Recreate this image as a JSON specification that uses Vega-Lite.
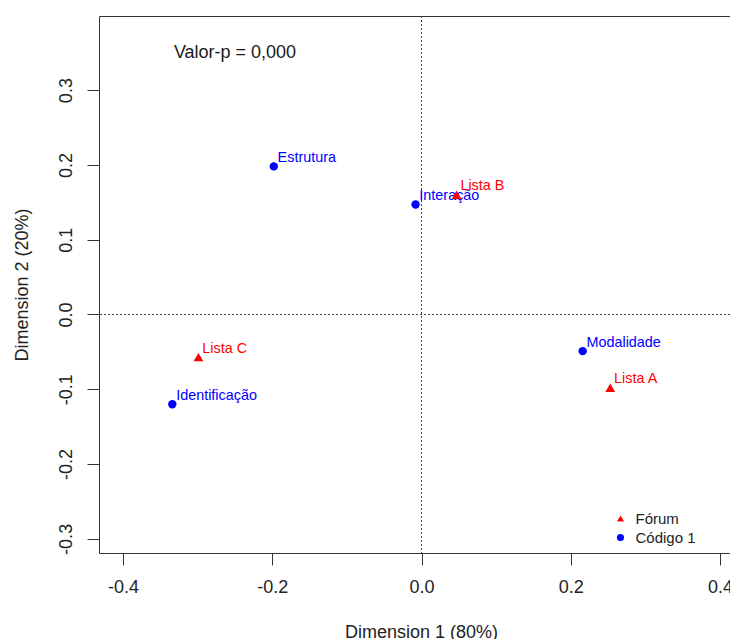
{
  "$schema": "https://vega.github.io/schema/vega-lite/v6.json",
  "width": 631,
  "height": 537,
  "autosize": {"type": "none"},
  "padding": {"left": 99, "top": 16, "right": 0, "bottom": 86},
  "background": "white",
  "config": {
    "view": {"stroke": null},
    "font": "Liberation Sans",
    "axis": {
      "grid": false,
      "domainColor": "#333333",
      "tickColor": "#333333",
      "labelColor": "#222222",
      "titleColor": "#222222",
      "labelFont": "Liberation Sans",
      "titleFont": "Liberation Sans",
      "labelFontSize": 18,
      "titleFontSize": 18,
      "titleFontWeight": "normal",
      "tickSize": 12,
      "labelOverlap": false,
      "labelFlush": false
    },
    "axisY": {
      "labelAngle": 270,
      "labelAlign": "center",
      "labelBaseline": "alphabetic",
      "labelPadding": 16,
      "titleAngle": 270,
      "titleX": -72,
      "titleY": 268.5,
      "titleAlign": "center",
      "titleBaseline": "alphabetic"
    }
  },
  "data": {
    "values": [
      {"rotulo": "Estrutura", "d1": -0.198, "d2": 0.198, "grupo": "Código 1"},
      {"rotulo": "Interação", "d1": -0.008, "d2": 0.147, "grupo": "Código 1"},
      {"rotulo": "Identificação", "d1": -0.334, "d2": -0.12, "grupo": "Código 1"},
      {"rotulo": "Modalidade", "d1": 0.216, "d2": -0.049, "grupo": "Código 1"},
      {"rotulo": "Lista A", "d1": 0.253, "d2": -0.098, "grupo": "Fórum"},
      {"rotulo": "Lista B", "d1": 0.047, "d2": 0.16, "grupo": "Fórum"},
      {"rotulo": "Lista C", "d1": -0.299, "d2": -0.057, "grupo": "Fórum"}
    ]
  },
  "resolve": {"axis": {"x": "independent"}},
  "layer": [
    {
      "data": {"values": [{}]},
      "mark": {"type": "rule", "color": "#444444", "strokeWidth": 1, "strokeDash": [2, 2]},
      "encoding": {
        "x": {
          "datum": 0,
          "type": "quantitative",
          "scale": {"domain": [-0.4323, 0.4135], "nice": false, "zero": false},
          "axis": {"orient": "top", "labels": false, "ticks": false, "title": null, "domain": true}
        }
      }
    },
    {
      "data": {"values": [{}]},
      "mark": {"type": "rule", "color": "#444444", "strokeWidth": 1, "strokeDash": [2, 2]},
      "encoding": {
        "y": {
          "datum": 0,
          "type": "quantitative",
          "scale": {"domain": [-0.3189, 0.3991], "nice": false, "zero": false},
          "title": "Dimension 2 (20%)",
          "axis": {"values": [-0.3, -0.2, -0.1, 0, 0.1, 0.2, 0.3], "labelExpr": "replace(format(datum.value, '.1f'), '\u2212', '-')"}
        }
      }
    },
    {
      "transform": [{"filter": "datum.grupo === 'Código 1'"}],
      "mark": {"type": "point", "filled": true, "opacity": 1, "size": 70},
      "encoding": {
        "x": {
          "field": "d1",
          "type": "quantitative",
          "scale": {"domain": [-0.4323, 0.4135], "nice": false, "zero": false},
          "axis": {
            "orient": "bottom",
            "values": [-0.4, -0.2, 0, 0.2, 0.4],
            "labelExpr": "replace(format(datum.value, '.1f'), '\u2212', '-')",
            "labelBaseline": "alphabetic",
            "labelPadding": 27,
            "title": "Dimension 1 (80%)",
            "titleX": 322,
            "titleY": 84,
            "titleAlign": "center",
            "titleBaseline": "alphabetic"
          }
        },
        "y": {
          "field": "d2",
          "type": "quantitative",
          "scale": {"domain": [-0.3189, 0.3991], "nice": false, "zero": false},
          "title": "Dimension 2 (20%)",
          "axis": {"values": [-0.3, -0.2, -0.1, 0, 0.1, 0.2, 0.3], "labelExpr": "replace(format(datum.value, '.1f'), '\u2212', '-')"}
        },
        "color": {
          "field": "grupo",
          "type": "nominal",
          "scale": {"domain": ["Fórum", "Código 1"], "range": ["#ff0000", "#0000ff"]},
          "legend": {
            "orient": "none",
            "legendX": 514,
            "legendY": 495,
            "title": null,
            "symbolSize": 50,
            "symbolStrokeWidth": 0,
            "labelFont": "Liberation Sans",
            "labelFontSize": 15,
            "labelColor": "#222222",
            "labelOffset": 7.5,
            "rowPadding": 3,
            "padding": 0
          }
        },
        "shape": {
          "field": "grupo",
          "type": "nominal",
          "scale": {"domain": ["Fórum", "Código 1"], "range": ["triangle-up", "circle"]},
          "legend": {
            "orient": "none",
            "legendX": 514,
            "legendY": 495,
            "title": null,
            "symbolSize": 50,
            "symbolStrokeWidth": 0,
            "labelFont": "Liberation Sans",
            "labelFontSize": 15,
            "labelColor": "#222222",
            "labelOffset": 7.5,
            "rowPadding": 3,
            "padding": 0
          }
        }
      }
    },
    {
      "transform": [{"filter": "datum.grupo === 'Código 1'"}],
      "mark": {"type": "text", "align": "left", "baseline": "alphabetic", "dx": 3.8, "dy": -4.5, "fontSize": 14.4, "font": "Liberation Sans", "color": "#0000ff"},
      "encoding": {
        "x": {"field": "d1", "type": "quantitative", "scale": {"domain": [-0.4323, 0.4135], "nice": false, "zero": false}, "axis": null},
        "y": {"field": "d2", "type": "quantitative", "scale": {"domain": [-0.3189, 0.3991], "nice": false, "zero": false}, "title": "Dimension 2 (20%)",
          "axis": {"values": [-0.3, -0.2, -0.1, 0, 0.1, 0.2, 0.3], "labelExpr": "replace(format(datum.value, '.1f'), '\u2212', '-')"}},
        "text": {"field": "rotulo", "type": "nominal"}
      }
    },
    {
      "transform": [{"filter": "datum.grupo === 'Fórum'"}],
      "mark": {"type": "point", "filled": true, "opacity": 1, "size": 95},
      "encoding": {
        "x": {"field": "d1", "type": "quantitative", "scale": {"domain": [-0.4323, 0.4135], "nice": false, "zero": false}, "axis": null},
        "y": {"field": "d2", "type": "quantitative", "scale": {"domain": [-0.3189, 0.3991], "nice": false, "zero": false}, "title": "Dimension 2 (20%)",
          "axis": {"values": [-0.3, -0.2, -0.1, 0, 0.1, 0.2, 0.3], "labelExpr": "replace(format(datum.value, '.1f'), '\u2212', '-')"}},
        "color": {"field": "grupo", "type": "nominal", "scale": {"domain": ["Fórum", "Código 1"], "range": ["#ff0000", "#0000ff"]}},
        "shape": {"field": "grupo", "type": "nominal", "scale": {"domain": ["Fórum", "Código 1"], "range": ["triangle-up", "circle"]}}
      }
    },
    {
      "transform": [{"filter": "datum.grupo === 'Fórum'"}],
      "mark": {"type": "text", "align": "left", "baseline": "alphabetic", "dx": 3.8, "dy": -4.5, "fontSize": 14.4, "font": "Liberation Sans", "color": "#ff0000"},
      "encoding": {
        "x": {"field": "d1", "type": "quantitative", "scale": {"domain": [-0.4323, 0.4135], "nice": false, "zero": false}, "axis": null},
        "y": {"field": "d2", "type": "quantitative", "scale": {"domain": [-0.3189, 0.3991], "nice": false, "zero": false}, "title": "Dimension 2 (20%)",
          "axis": {"values": [-0.3, -0.2, -0.1, 0, 0.1, 0.2, 0.3], "labelExpr": "replace(format(datum.value, '.1f'), '\u2212', '-')"}},
        "text": {"field": "rotulo", "type": "nominal"}
      }
    },
    {
      "data": {"values": [{"x": -0.25, "y": 0.35, "texto": "Valor-p = 0,000"}]},
      "mark": {"type": "text", "align": "center", "baseline": "middle", "fontSize": 18, "font": "Liberation Sans", "color": "#1a1a1a"},
      "encoding": {
        "x": {"field": "x", "type": "quantitative", "scale": {"domain": [-0.4323, 0.4135], "nice": false, "zero": false}, "axis": null},
        "y": {"field": "y", "type": "quantitative", "scale": {"domain": [-0.3189, 0.3991], "nice": false, "zero": false}, "title": "Dimension 2 (20%)",
          "axis": {"values": [-0.3, -0.2, -0.1, 0, 0.1, 0.2, 0.3], "labelExpr": "replace(format(datum.value, '.1f'), '\u2212', '-')"}},
        "text": {"field": "texto", "type": "nominal"}
      }
    }
  ]
}
